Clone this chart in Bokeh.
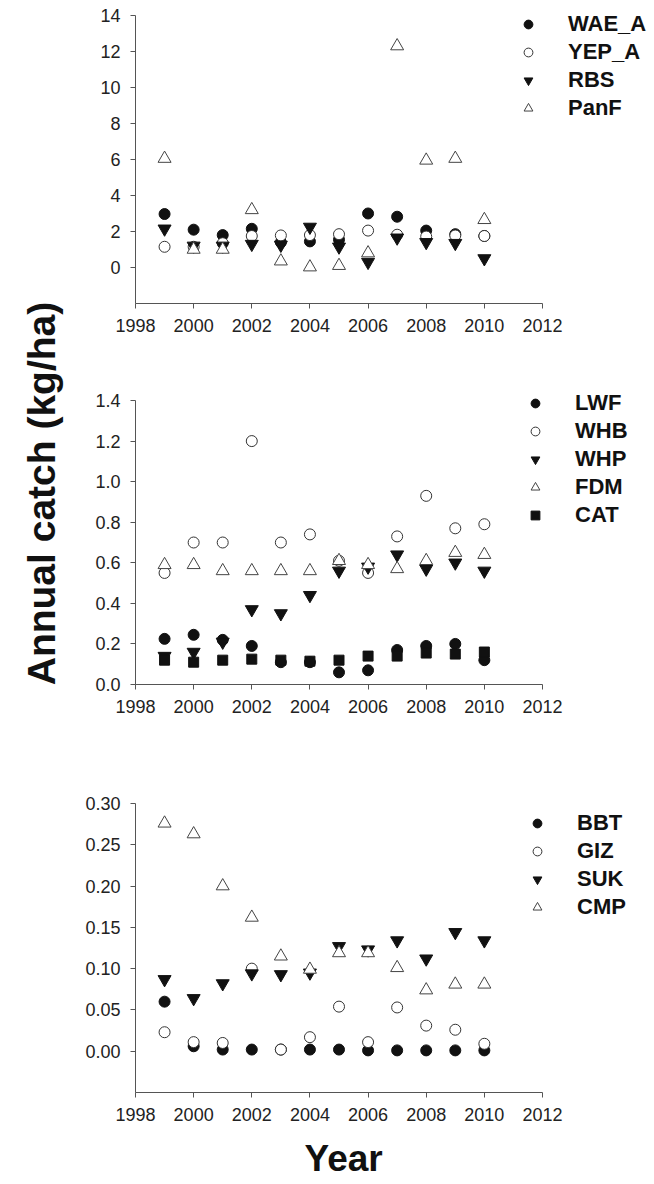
from math import pi
from bokeh.plotting import figure
from bokeh.models import Range1d, FixedTicker, Legend, LegendItem, Label, NumeralTickFormatter
from bokeh.layouts import row, column
from bokeh.embed import file_html
from bokeh.resources import INLINE

FONT = "Liberation Sans"

years = [1999, 2000, 2001, 2002, 2003, 2004, 2005, 2006, 2007, 2008, 2009, 2010]
x_ticks = [1998, 2000, 2002, 2004, 2006, 2008, 2010, 2012]

# Panel 1
wae_a = [2.97, 2.10, 1.80, 2.15, 1.40, 1.45, 1.55, 3.00, 2.82, 2.05, 1.85, 1.75]
yep_a = [1.15, 1.15, 1.35, 1.75, 1.78, 1.80, 1.85, 2.05, 1.82, 1.72, 1.78, 1.75]
rbs = [2.15, 1.20, 1.20, 1.30, 1.25, 2.25, 1.15, 0.30, 1.65, 1.40, 1.35, 0.50]
panf = [6.05, 1.00, 1.00, 3.20, 0.35, 0.02, 0.10, 0.80, 12.30, 5.95, 6.05, 2.65]
p1_yticks = [0, 2, 4, 6, 8, 10, 12, 14]

# Panel 2
lwf = [0.225, 0.245, 0.22, 0.19, 0.11, 0.11, 0.06, 0.07, 0.17, 0.19, 0.20, 0.12]
whb = [0.55, 0.70, 0.70, 1.20, 0.70, 0.74, 0.61, 0.55, 0.73, 0.93, 0.77, 0.79]
whp = [0.14, 0.16, 0.21, 0.37, 0.35, 0.44, 0.56, 0.58, 0.64, 0.57, 0.60, 0.56]
fdm = [0.59, 0.59, 0.56, 0.56, 0.56, 0.56, 0.61, 0.59, 0.57, 0.61, 0.65, 0.64]
cat = [0.12, 0.11, 0.12, 0.125, 0.12, 0.115, 0.12, 0.14, 0.14, 0.155, 0.15, 0.16]
p2_yticks = [0.0, 0.2, 0.4, 0.6, 0.8, 1.0, 1.2, 1.4]

# Panel 3
bbt = [0.060, 0.006, 0.002, 0.002, 0.002, 0.002, 0.002, 0.001, 0.001, 0.001, 0.001, 0.001]
giz = [0.023, 0.011, 0.010, 0.100, 0.002, 0.017, 0.054, 0.011, 0.053, 0.031, 0.026, 0.009]
suk = [0.087, 0.064, 0.082, 0.094, 0.093, 0.095, 0.127, 0.123, 0.134, 0.112, 0.144, 0.134]
cmp_ = [0.276, 0.263, 0.200, 0.162, 0.115, 0.099, 0.119, 0.119, 0.101, 0.074, 0.081, 0.081]
p3_yticks = [0.00, 0.05, 0.10, 0.15, 0.20, 0.25, 0.30]

STYLES = {
    "fcircle": dict(marker="circle", size=11, fill_color="#111111", line_color="#111111", line_width=1),
    "ocircle": dict(marker="circle", size=11, fill_color="white", line_color="#333333", line_width=1),
    "ftri_down": dict(marker="inverted_triangle", size=13, fill_color="#111111", line_color="#111111", line_width=1),
    "otri_up": dict(marker="triangle", size=13, fill_color="white", line_color="#444444", line_width=1),
    "fsquare": dict(marker="square", size=10, fill_color="#111111", line_color="#111111", line_width=1),
}

X_END = 1998 + (654 - 135) / ((542 - 135) / 14.0)   # frame reaches the right edge; axis drawn to 2012


def make_panel(height, top, bottom, yrange, ybounds, yticks, fmt, series, leg_loc):
    p = figure(width=576, height=height, x_range=Range1d(1998, X_END), y_range=Range1d(*yrange),
               output_backend="svg", toolbar_location=None,
               min_border_left=57, min_border_right=0, min_border_top=top, min_border_bottom=bottom)
    p.outline_line_color = None
    p.grid.visible = False
    p.background_fill_color = "white"
    p.border_fill_color = "white"
    p.xaxis.ticker = FixedTicker(ticks=x_ticks)
    p.yaxis.ticker = FixedTicker(ticks=yticks)
    p.xaxis.bounds = (1998, 2012)
    p.yaxis.bounds = ybounds
    if fmt:
        p.yaxis.formatter = NumeralTickFormatter(format=fmt)
    for ax in (p.xaxis[0], p.yaxis[0]):
        ax.axis_line_color = "#555555"
        ax.major_tick_line_color = "#555555"
        ax.minor_tick_line_color = None
        ax.major_tick_in = 0
        ax.major_tick_out = 5
        ax.major_label_standoff = 10
        ax.major_label_text_font = FONT
        ax.major_label_text_font_size = "18px"
        ax.major_label_text_color = "#222222"
    items = []
    for name, vals, style in series:
        r = p.scatter(years, vals, **STYLES[style])
        items.append(LegendItem(label=name, renderers=[r]))
    leg = Legend(items=items, location=leg_loc, padding=0, margin=0, spacing=0,
                 glyph_width=22, glyph_height=28, label_height=28, label_standoff=29,
                 border_line_color=None, background_fill_alpha=0,
                 label_text_font=FONT, label_text_font_size="22px",
                 label_text_font_style="bold", label_text_color="#111111")
    p.add_layout(leg)
    return p


p1 = make_panel(360, 0, 57, (-2, 14.83), (-2, 14), p1_yticks, None,
                [("WAE_A", wae_a, "fcircle"), ("YEP_A", yep_a, "ocircle"),
                 ("RBS", rbs, "ftri_down"), ("PanF", panf, "otri_up")], (382, 181))
p2 = make_panel(380, 25, 56, (0, 1.474), (0, 1.4), p2_yticks, "0.0",
                [("LWF", lwf, "fcircle"), ("WHB", whb, "ocircle"), ("WHP", whp, "ftri_down"),
                 ("FDM", fdm, "otri_up"), ("CAT", cat, "fsquare")], (389, 155))
p3 = make_panel(444, 63, 92, (-0.05, 0.30), (-0.05, 0.30), p3_yticks, "0.00",
                [("BBT", bbt, "fcircle"), ("GIZ", giz, "ocircle"),
                 ("SUK", suk, "ftri_down"), ("CMP", cmp_, "otri_up")], (391, 171))

# trailing no-break spaces shift the centred title left, under the drawn 1998-2012 axis
p3.xaxis.axis_label = "Year" + "\u00a0" * 10
p3.xaxis.axis_label_standoff = 14
p3.xaxis.axis_label_text_font = FONT
p3.xaxis.axis_label_text_font_size = "37px"
p3.xaxis.axis_label_text_font_style = "bold"
p3.xaxis.axis_label_text_color = "#111111"

# y-axis title strip (coordinates in page pixels)
lf = figure(width=78, height=1184, x_range=Range1d(0, 78), y_range=Range1d(1184, 0),
            x_axis_type=None, y_axis_type=None, toolbar_location=None, output_backend="svg",
            min_border=0, min_border_left=0, min_border_right=0, min_border_top=0, min_border_bottom=0)
lf.outline_line_color = None
lf.grid.visible = False
lf.add_layout(Label(x=41, y=493, text="Annual catch (kg/ha)", angle=pi / 2, text_align="center",
                    text_baseline="middle", text_font=FONT, text_font_size="39px",
                    text_font_style="bold", text_color="#111111"))

layout = row(lf, column(p1, p2, p3))
open("out.html", "w").write(file_html(layout, INLINE))
